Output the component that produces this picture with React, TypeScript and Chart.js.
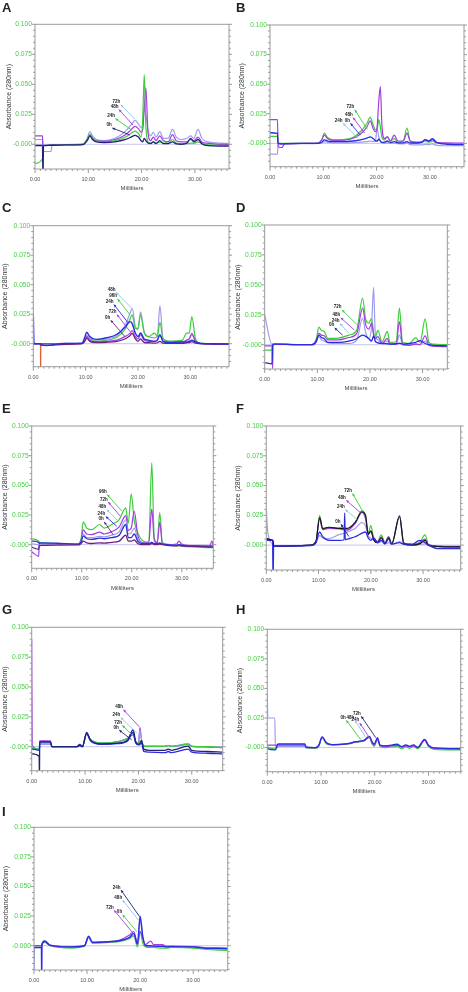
import React, { useEffect, useRef } from 'react';
import { Chart, registerables } from 'chart.js';

Chart.register(...registerables);
Chart.defaults.font.family = "'Liberation Sans', Arial, sans-serif";

// ---------- shared labels ----------
const X_TICKS = [0, 10, 20, 30];
const Y_TICKS = [0, 0.025, 0.05, 0.075, 0.1];
const Y_TITLE = 'Absorbance (280nm)';
const X_TITLE = 'Milliliters';

// ---------- Panel A ----------
const A_x = [0, 1.4, 1.5, 1.6, 2.0, 3.0, 3.2, 6, 9.0, 9.8, 10.3, 10.8, 11.5, 13, 15, 17, 18, 18.8, 19.4, 19.9, 20.2, 20.5, 20.8, 21.2, 21.7, 22.2, 22.7, 23.4, 24.1, 25.0, 25.8, 26.5, 27.5, 28.5, 29.2, 29.8, 30.6, 31.3, 32.5, 34.5, 36.4];
const A_0h = [-0.001, -0.001, -0.03, -0.001, -0.001, -0.0008, -0.0008, -0.0005, -0.0003, 0.003, 0.007, 0.004, 0.002, 0.0015, 0.002, 0.004, 0.006, 0.0075, 0.006, 0.003, 0.002, 0.005, 0.003, 0.001, 0.0005, 0.002, 0.0005, 0.003, 0.0005, 0.0005, 0.002, 0.0003, 0, 0.001, 0.005, 0.002, 0.004, 0.0005, -0.0012, -0.0015, -0.0015];
const A_24h = [-0.016, -0.012, -0.001, -0.001, -0.001, -0.0008, -0.0008, -0.0005, 0, 0.004, 0.008, 0.005, 0.003, 0.002, 0.003, 0.006, 0.009, 0.011, 0.009, 0.006, 0.02, 0.058, 0.015, 0.002, 0.001, 0.002, 0.001, 0.002, 0.001, 0.001, 0.004, 0.001, 0.0005, 0.0005, 0.001, 0.0008, 0.002, 0.0005, -0.0005, -0.0008, -0.001];
const A_48h = [0.007, 0.007, -0.001, -0.001, -0.001, -0.0005, -0.0005, -0.0003, 0, 0.004, 0.008, 0.005, 0.003, 0.0025, 0.004, 0.008, 0.012, 0.015, 0.013, 0.01, 0.012, 0.03, 0.047, 0.01, 0.003, 0.006, 0.003, 0.007, 0.003, 0.002, 0.008, 0.003, 0.002, 0.002, 0.004, 0.003, 0.006, 0.002, 0.0008, 0, -0.0002];
const A_72h = [0.004, 0.004, -0.006, -0.006, -0.006, -0.006, -0.0005, -0.0002, 0.0003, 0.005, 0.0105, 0.007, 0.004, 0.003, 0.005, 0.011, 0.016, 0.02, 0.017, 0.014, 0.015, 0.03, 0.025, 0.012, 0.007, 0.01, 0.006, 0.0105, 0.005, 0.005, 0.0125, 0.006, 0.004, 0.005, 0.007, 0.005, 0.0125, 0.005, 0.002, 0.001, 0.0008];
const A_tags = [['72h', 16.1, 0.033, 18.75, 0.0208], ['48h', 15.75, 0.0289, 18.4, 0.016], ['24h', 15.1, 0.0214, 18.1, 0.012], ['0h', 14.5, 0.0136, 17.8, 0.0078]];

// ---------- Panel B ----------
const B_x = [0, 1.4, 1.5, 1.6, 2.2, 2.8, 6, 9.0, 9.7, 10.2, 10.8, 12, 15, 17, 18.2, 18.8, 19.4, 19.8, 20.1, 20.4, 20.7, 21.0, 21.5, 22.0, 22.6, 23.3, 24.0, 25.0, 25.7, 26.3, 27.5, 28.5, 29.1, 29.8, 30.5, 31.2, 32.5, 34.5, 36.4];
const B_72h = [0.006, 0.006, 0, 0, 0, 0, 0, 0.0003, 0.003, 0.0086, 0.005, 0.003, 0.004, 0.01, 0.017, 0.022, 0.015, 0.0115, 0.012, 0.02, 0.014, 0.005, 0.003, 0.0057, 0.002, 0.004, 0.001, 0.002, 0.013, 0.002, 0.0005, 0.001, 0.002, 0.001, 0.002, 0.0005, 0, -0.0003, -0.0005];
const B_48h = [0.02, 0.02, 0, -0.003, -0.0035, -0.0003, 0, 0.0003, 0.003, 0.007, 0.004, 0.0025, 0.0035, 0.008, 0.014, 0.019, 0.012, 0.01, 0.014, 0.035, 0.048, 0.015, 0.004, 0.0055, 0.002, 0.007, 0.002, 0.002, 0.0086, 0.002, 0.001, 0.001, 0.0035, 0.002, 0.003, 0.0008, 0.0005, 0.0003, 0.0003];
const B_24h = [-0.009, -0.009, -0.001, -0.001, -0.0008, -0.0005, -0.0003, 0, 0.0005, 0.0015, 0.0008, 0.0005, 0.0005, 0.001, 0.0015, 0.002, 0.0015, 0.003, 0.012, 0.006, 0.002, 0.0005, 0, 0.0005, 0, 0.0003, -0.0003, -0.0005, 0.0005, -0.001, -0.0012, -0.0012, -0.0008, -0.001, -0.0005, -0.0015, -0.002, -0.002, -0.002];
const B_0h = [0.009, 0.0085, 0, 0, -0.0005, -0.0003, 0, 0, 0.001, 0.003, 0.002, 0.0015, 0.0018, 0.003, 0.0045, 0.0055, 0.004, 0.002, 0.002, 0.0035, 0.002, 0.0008, 0.001, 0.002, 0.0008, 0.0015, 0.0005, 0.0005, 0.0015, 0.0003, 0.0003, 0.001, 0.003, 0.002, 0.004, 0.001, -0.0005, -0.001, -0.001];
const B_tags = [['72h', 15.9, 0.0284, 18.25, 0.012], ['48h', 15.6, 0.0218, 17.75, 0.0086], ['24h', 13.7, 0.017, 16.5, 0.0043], ['0h', 15.1, 0.017, 16.9, 0.0072]];

// ---------- Panel C ----------
const C_x = [0, 0.15, 1.3, 1.4, 1.5, 2.5, 6, 9.3, 9.8, 10.2, 10.8, 12, 14, 16, 17.5, 18.5, 18.9, 19.5, 20.0, 20.5, 21.2, 22.0, 23.2, 23.7, 24.2, 24.8, 26, 28.5, 29.3, 29.8, 30.3, 31.0, 32.0, 34.5, 37.4];
const C_0h = [0, 0, 0, -0.001, -0.001, -0.0015, -0.0005, 0, 0.002, 0.0045, 0.002, 0.001, 0.0012, 0.002, 0.004, 0.007, 0.0088, 0.004, 0.002, 0.004, 0.001, 0.0008, 0.0005, 0.0008, 0.002, 0.0005, 0.0003, 0.0003, 0.0008, 0.001, 0.0018, 0.0005, 0, -0.0003, -0.0003];
const C_24h = [0.025, 0, 0, 0, -0.001, -0.0015, 0.0003, 0.0005, 0.005, 0.0097, 0.006, 0.0037, 0.005, 0.008, 0.014, 0.0187, 0.017, 0.009, 0.006, 0.009, 0.004, 0.003, 0.002, 0.003, 0.0075, 0.002, 0.001, 0.0015, 0.0015, 0.002, 0.003, 0.0015, 0.0003, 0, -0.0002];
const C_96h = [0, 0, 0, 0, 0, 0, 0, 0, 0.002, 0.006, 0.004, 0.002, 0.003, 0.0055, 0.012, 0.021, 0.0245, 0.013, 0.013, 0.0245, 0.009, 0.006, 0.009, 0.006, 0.018, 0.004, 0.002, 0.003, 0.009, 0.009, 0.023, 0.004, 0.0005, 0, 0];
const C_48h = [0, 0, 0, 0, 0, 0, 0.0002, 0.0003, 0.003, 0.007, 0.004, 0.003, 0.004, 0.007, 0.015, 0.026, 0.03, 0.0145, 0.012, 0.027, 0.01, 0.006, 0.005, 0.006, 0.032, 0.004, 0.002, 0.002, 0.003, 0.004, 0.0074, 0.002, 0, 0, 0];
const C_72h = [0, 0, 0, 0, 0, 0, 0, 0, 0.002, 0.006, 0.003, 0.0015, 0.002, 0.003, 0.006, 0.009, 0.011, 0.006, 0.004, 0.0074, 0.003, 0.002, 0.002, 0.003, 0.0074, 0.002, 0.001, 0.001, 0.003, 0.004, 0.0088, 0.002, 0, -0.0005, -0.0005];
const C_dropX = [1.35, 1.4, 1.45];
const C_drop = [0, -0.03, 0];
const C_tags = [['48h', 15.8, 0.0437, 18.8, 0.03], ['96h', 16.1, 0.038, 18.5, 0.0244], ['24h', 15.4, 0.0332, 18.2, 0.0173], ['72h', 16.0, 0.0247, 18.5, 0.0102], ['0h', 14.8, 0.0199, 17.5, 0.006]];

// ---------- Panel D ----------
const D_x = [0, 1.4, 1.5, 1.6, 2.2, 6, 9.0, 9.8, 10.3, 10.8, 11.3, 12, 14, 16, 17.5, 18.6, 19.2, 19.8, 20.3, 20.7, 21.0, 21.5, 22.3, 23.3, 23.8, 25.0, 25.6, 26.2, 27.5, 28.7, 29.5, 30.5, 31.2, 32.0, 34.7];
const D_72h = [-0.0045, -0.0045, 0.0005, 0.0005, 0.0008, 0, 0, 0.005, 0.0146, 0.0118, 0.011, 0.0053, 0.0055, 0.008, 0.0124, 0.039, 0.0208, 0.018, 0.022, 0.01, 0.006, 0.012, 0.0025, 0.011, 0.002, 0.0025, 0.0306, 0.002, 0.001, 0.0059, 0.002, 0.0216, 0.002, 0.0005, 0];
const D_48h = [-0.001, -0.001, -0.02, 0, 0.0005, 0, 0, 0.003, 0.0095, 0.008, 0.0075, 0.004, 0.004, 0.006, 0.0095, 0.0306, 0.0166, 0.013, 0.018, 0.008, 0.005, 0.0067, 0.001, 0.0053, 0.0005, 0.0005, 0.0194, 0, -0.0005, 0.0005, 0, 0.0073, -0.0005, -0.0012, -0.0017];
const D_24h = [0.025, 0, 0, 0, 0.0005, 0, 0, 0.002, 0.0067, 0.004, 0.003, 0.0015, 0.001, 0.001, 0.004, 0.022, 0.01, 0.005, 0.015, 0.048, 0.01, 0.004, 0.001, 0.003, 0.0005, 0.0005, 0.008, 0.0003, 0, 0.0005, 0, 0.003, -0.0005, -0.001, -0.001];
const D_0h = [-0.015, -0.016, 0.0005, 0.0005, 0.0005, 0, 0, 0.003, 0.008, 0.006, 0.005, 0.002, 0.002, 0.003, 0.005, 0.008, 0.007, 0.005, 0.003, 0.0073, 0.003, 0.0015, 0.001, 0.0008, 0.0005, 0.0008, 0.0012, 0.0005, 0.001, 0.002, 0.0034, 0.001, 0, -0.0005, -0.001];
const D_tags = [['72h', 14.7, 0.029, 17.6, 0.0166], ['48h', 14.45, 0.0225, 17.0, 0.0124], ['24h', 14.3, 0.0177, 16.0, 0.0096], ['0h', 13.3, 0.014, 14.8, 0.008]];

// ---------- Panel E ----------
const E_x = [0, 1.4, 1.5, 2.0, 5, 9.3, 9.9, 10.3, 11.0, 12.0, 13.6, 14.5, 16.0, 17.5, 18.8, 19.3, 19.9, 20.5, 21.2, 22.0, 23.4, 24.0, 24.5, 25.1, 25.6, 26.1, 27.0, 29.0, 29.4, 30.0, 33.0, 35.6, 36.0, 36.3];
const E_96h = [0.005, 0.003, 0.002, 0.0015, 0.001, 0.0005, 0.006, 0.0192, 0.014, 0.0126, 0.017, 0.014, 0.017, 0.0212, 0.031, 0.018, 0.0428, 0.02, 0.01, 0.004, 0.002, 0.069, 0.005, 0.002, 0.027, 0.002, 0.0005, -0.001, -0.0008, -0.0015, -0.002, -0.0025, -0.0025, -0.0025];
const E_72h = [-0.006, -0.0098, 0.001, 0.0008, 0.0005, 0.0003, 0.004, 0.0126, 0.009, 0.0085, 0.0105, 0.009, 0.011, 0.015, 0.0245, 0.012, 0.014, 0.028, 0.008, 0.002, 0.0015, 0.03, 0.004, 0.0015, 0.019, 0.001, 0, 0.0005, 0.003, 0.0005, -0.001, -0.0012, 0.003, -0.001];
const E_48h = [0.001, 0, 0.001, 0.0008, 0.0005, 0.0003, 0.003, 0.009, 0.006, 0.006, 0.007, 0.0065, 0.008, 0.011, 0.021, 0.009, 0.01, 0.014, 0.005, 0.0015, 0.001, 0.002, 0.0008, 0.0008, 0.0015, 0.0005, 0, -0.0005, 0, -0.0008, -0.001, -0.0012, -0.0012, -0.0012];
const E_24h = [0.003, 0.002, 0.001, 0.0015, 0.0012, 0.0005, 0.0025, 0.0075, 0.005, 0.0045, 0.0055, 0.005, 0.006, 0.008, 0.017, 0.006, 0.006, 0.009, 0.003, 0.001, 0.0008, 0.002, 0.0008, 0.0008, 0.0012, 0.0005, 0, -0.0005, 0, -0.0005, -0.001, -0.0012, -0.0012, -0.0015];
const E_0h = [-0.002, -0.004, -0.001, -0.0005, -0.0003, -0.0002, 0.001, 0.003, 0.0015, 0.001, 0.0015, 0.0013, 0.002, 0.003, 0.008, 0.003, 0.003, 0.004, 0.001, 0, 0, 0.001, 0, 0, 0.0005, 0, -0.0005, -0.001, -0.0005, -0.001, -0.0015, -0.002, -0.002, -0.002];
const E_tags = [['96h', 15.1, 0.0422, 18.0, 0.0284], ['72h', 15.3, 0.0359, 17.7, 0.0241], ['48h', 15.0, 0.0296, 17.3, 0.0198], ['24h', 14.8, 0.0238, 17.0, 0.0155], ['0h', 14.5, 0.0192, 16.3, 0.0083]];

// ---------- Panel F ----------
const F_x = [0, 0.3, 1.2, 1.3, 1.4, 2.0, 8.5, 9.5, 10.2, 10.8, 12.0, 14.0, 14.9, 15.0, 15.1, 15.5, 17.0, 18.3, 19.0, 19.5, 20.0, 20.6, 21.3, 22.0, 22.7, 23.4, 24.0, 25.5, 26.3, 28.0, 29.3, 30.4, 31.0, 33.0, 37.2];
const F_72h = [0.0057, 0.005, 0.004, 0.003, -0.0008, -0.0008, 0, 0.003, 0.025, 0.013, 0.015, 0.0143, 0.014, 0.014, 0.014, 0.013, 0.0187, 0.029, 0.024, 0.01, 0.0164, 0.005, 0.003, 0.0086, 0.002, 0.0072, 0.001, 0.025, 0.002, 0.0005, 0.002, 0.0086, 0.0005, -0.0012, -0.0015];
const F_blk = [0.0057, 0.005, 0.004, 0.003, -0.0008, -0.0008, 0, 0.003, 0.023, 0.014, 0.015, 0.014, 0.014, 0.014, 0.014, 0.014, 0.019, 0.028, 0.025, 0.009, 0.012, 0.004, 0.002, 0.006, 0.001, 0.006, 0.001, 0.024, 0.001, 0, 0.001, 0.004, 0, -0.0012, -0.0015];
const F_48h = [0.0057, 0.005, 0.004, 0.003, -0.0008, -0.0008, 0, 0.003, 0.022, 0.013, 0.014, 0.0135, 0.013, 0.013, 0.013, 0.0125, 0.018, 0.0275, 0.022, 0.009, 0.011, 0.005, 0.003, 0.007, 0.002, 0.007, 0.001, 0.0245, 0.002, 0.0005, 0.002, 0.005, 0.0005, -0.0008, -0.001];
const F_24h = [0.03, 0.01, 0.001, 0.0005, 0, -0.0008, 0, 0.002, 0.008, 0.006, 0.0055, 0.009, 0.01, 0.0105, 0.01, 0.011, 0.014, 0.019, 0.016, 0.008, 0.006, 0.004, 0.002, 0.003, 0.001, 0.002, 0.0005, 0.003, 0.0005, 0, 0.0005, 0.001, 0, -0.0008, -0.002];
const F_0h = [0.004, 0.004, 0.004, -0.03, -0.001, -0.0008, -0.0005, 0.002, 0.011, 0.007, 0.004, 0.004, 0.0045, 0.027, 0.0045, 0.005, 0.007, 0.01, 0.011, 0.006, 0.004, 0.006, 0.002, 0.004, 0.0015, 0.005, 0.001, 0.002, 0.0008, 0.0008, 0.004, 0.002, 0, -0.003, -0.003];
const F_tags = [['72h', 16.5, 0.0433, 18.3, 0.0296], ['48h', 15.3, 0.0376, 18.0, 0.0273], ['24h', 15.1, 0.0298, 17.4, 0.0215], ['0h', 14.3, 0.0175, 15.8, 0.0072]];

// ---------- Panel G ----------
const G_x = [0, 0.1, 1.4, 1.45, 1.5, 3.5, 3.8, 8.5, 9.0, 9.5, 10.3, 11.0, 13.0, 16.0, 18.0, 19.0, 19.5, 20.0, 20.3, 20.6, 21.0, 22.0, 25.0, 25.6, 26.2, 29.3, 30.0, 33.0, 35.8];
const G_0h = [-0.006, -0.006, -0.008, -0.03, 0.004, 0.004, 0, 0, 0.002, 0, 0.012, 0.0057, 0.0023, 0.003, 0.0057, 0.0142, 0.004, 0.002, 0.003, 0.005, -0.002, -0.003, -0.003, -0.002, -0.003, 0.0005, -0.003, -0.004, -0.0045];
const G_low = [-0.002, -0.002, -0.003, -0.003, 0.004, 0.004, 0, 0, 0.001, 0, 0.011, 0.005, 0.002, 0.0025, 0.005, 0.012, 0.003, 0.0015, 0.002, 0.003, -0.004, -0.0045, -0.005, -0.004, -0.005, -0.002, -0.0045, -0.0055, -0.006];
const G_48h = [0.09, 0.001, -0.002, -0.002, 0.005, 0.005, 0, 0, 0.001, 0, 0.011, 0.006, 0.003, 0.004, 0.007, 0.01, 0.004, 0.003, 0.016, 0.005, 0.0005, 0.0003, 0.0003, 0.001, 0.0003, 0.002, 0.0003, -0.0003, -0.0008];
const G_72h = [0, -0.001, -0.002, -0.002, 0.003, 0.003, 0, 0, 0.001, 0, 0.011, 0.006, 0.003, 0.004, 0.007, 0.011, 0.004, 0.003, 0.005, 0.004, 0.0005, 0.0003, 0.0003, 0.001, 0.0003, 0.002, 0.0003, 0, -0.0005];
const G_24h = [0, -0.001, -0.002, -0.002, 0.002, 0.002, 0, 0, 0.001, 0, 0.011, 0.006, 0.003, 0.004, 0.007, 0.012, 0.004, 0.003, 0.014, 0.006, 0.0008, 0.0005, 0.0003, 0.0012, 0.0003, 0.0025, 0.0005, 0, -0.0003];
const G_tags = [['48h', 17.2, 0.031, 20.2, 0.0165], ['24h', 16.7, 0.0244, 19.7, 0.0114], ['72h', 17.0, 0.0179, 19.1, 0.0085], ['0h', 16.4, 0.0139, 18.75, 0.0057]];

// ---------- Panel H ----------
const H_x = [0, 0.1, 1.4, 1.5, 2.0, 7.0, 7.2, 9.0, 9.6, 10.2, 11.0, 12.0, 15.0, 16.5, 18.0, 19.0, 19.5, 19.9, 20.5, 21.0, 22.0, 24.2, 25.0, 25.8, 26.5, 27.2, 28.0, 29.3, 30.0, 31.0, 36.0];
const H_72h = [0, -0.001, -0.002, -0.002, 0.003, 0.003, 0.0005, 0, 0.002, 0.009, 0.004, 0.0025, 0.0033, 0.005, 0.006, 0.0095, 0.005, 0.003, 0.0083, 0.002, 0.0015, 0.0028, 0.0008, 0.0022, 0.001, 0.0022, 0.0002, 0.007, 0.002, -0.0003, -0.001];
const H_24h = [0.002, 0.002, 0.002, 0.002, 0.002, 0.002, 0, 0, 0.002, 0.0085, 0.004, 0.0025, 0.0033, 0.0048, 0.0058, 0.009, 0.004, 0.002, 0.007, 0.0015, 0.001, 0.002, 0.0005, 0.0015, 0.0008, 0.0015, 0, 0.0065, 0.0015, -0.0005, -0.0012];
const H_48h = [0.045, 0.025, 0.025, 0, 0.001, 0.001, 0, 0, 0.002, 0.0088, 0.004, 0.0025, 0.0033, 0.005, 0.006, 0.0095, 0.004, 0.002, 0.0075, 0.0015, 0.001, 0.002, 0.0005, 0.0015, 0.0008, 0.0015, 0, 0.0068, 0.0015, -0.0008, -0.0015];
const H_0h = [0.003, 0, -0.001, -0.001, 0.001, 0.001, 0, -0.0008, 0.001, 0.0085, 0.003, 0.0022, 0.003, 0.0045, 0.0055, 0.0085, 0.003, 0.001, 0.007, 0.001, 0, 0.001, -0.001, 0.0008, -0.0005, 0.001, -0.001, 0.006, 0.001, -0.0015, -0.002];
const H_tags = [['72h', 17.5, 0.0264, 20.2, 0.0083], ['24h', 17.2, 0.0208, 19.25, 0.0067], ['48h', 16.3, 0.0231, 18.3, 0.0089], ['0h', 14.7, 0.0231, 17.4, 0.0067]];

// ---------- Panel I ----------
const I_x = [0, 0.1, 1.4, 1.45, 1.5, 2.0, 3.0, 7.0, 9.5, 10.3, 11.0, 14.0, 16.0, 18.0, 18.8, 19.5, 20.0, 20.5, 21.0, 22.0, 22.5, 24.2, 25.0, 25.8, 30.0, 32.0, 36.5];
const I_24h = [-0.0015, -0.0015, -0.0015, -0.03, 0.001, 0.004, 0.0005, -0.001, 0, 0.008, 0.0028, 0.0034, 0.0042, 0.007, 0.0104, 0.0014, 0.025, 0.008, 0, 0, -0.0003, -0.0005, -0.001, -0.0008, -0.001, -0.002, -0.0025];
const I_48h = [-0.03, -0.0015, -0.0015, -0.0015, 0, 0.004, 0.0005, -0.001, 0, 0.0075, 0.0025, 0.003, 0.004, 0.0065, 0.009, 0.001, 0.022, 0.006, 0, -0.0005, -0.0005, -0.0008, -0.001, -0.001, -0.0012, -0.002, -0.0025];
const I_72h = [0, 0, 0, 0, 0.001, 0.0035, 0.0003, -0.001, 0, 0.0075, 0.003, 0.0032, 0.0045, 0.009, 0.012, 0.002, 0.012, 0.006, 0.001, 0.004, 0.001, 0.001, -0.0005, -0.0003, -0.0008, -0.0015, -0.002];
const I_0h = [0, 0, 0, 0, 0.001, 0.003, 0, -0.002, -0.0005, 0.007, 0.002, 0.0028, 0.0035, 0.006, 0.008, -0.001, 0.012, 0.002, -0.001, -0.0015, -0.0015, -0.002, -0.002, -0.0015, -0.002, -0.003, -0.004];
const I_tags = [['24h', 16.4, 0.047, 19.9, 0.0245], ['48h', 16.7, 0.0385, 19.7, 0.0216], ['72h', 15.1, 0.03, 18.7, 0.0104], ['0h', 16.7, 0.0261, 19.4, 0.0118]];

// ---------- styles ----------
const NAVY = '#22227e';
const BLUE = '#2b2be0';
const PURPLE = '#a33de0';
const GREEN = '#3ccc3c';
const LAV = '#9d9df0';
const LBLUE = '#8ec4ec';
const DPURP = '#6a2282';
const BLACK = '#161616';
const RED = '#e0582c';
const YTICK = '#47cf47';

type Series = { x: number[]; y: number[]; color: string; width: number };
type Panel = {
  letter: string; col: number; L: number; R: number; T: number; B: number;
  xMax: number; yMin: number; titleX: number; letterTop: number;
  series: Series[]; tags: (string | number)[][]; tagColors: string[];
};

const s = (x: number[], y: number[], color: string, width = 1.2): Series => ({ x, y, color, width });

const PANELS: Panel[] = [
  { letter: 'A', col: 0, L: 35, R: 229, T: 24.3, B: 169, xMax: 36.4, yMin: -0.0206, titleX: 9, letterTop: 0,
    series: [s(A_x, A_0h, NAVY, 1.3), s(A_x, A_24h, GREEN), s(A_x, A_48h, PURPLE), s(A_x, A_72h, LAV)],
    tags: A_tags, tagColors: [LBLUE, PURPLE, GREEN, NAVY] },
  { letter: 'B', col: 234, L: 270, R: 464, T: 25, B: 166.7, xMax: 36.4, yMin: -0.0197, titleX: 8, letterTop: 0,
    series: [s(B_x, B_0h, BLUE, 1.3), s(B_x, B_48h, PURPLE), s(B_x, B_72h, GREEN), s(B_x, B_24h, LAV)],
    tags: B_tags, tagColors: [GREEN, PURPLE, LBLUE, BLUE] },
  { letter: 'C', col: 0, L: 33.3, R: 229, T: 225.7, B: 366.7, xMax: 37.4, yMin: -0.0195, titleX: 5, letterTop: 200,
    series: [s(C_x, C_24h, BLUE, 1.4), s(C_x, C_0h, DPURP, 1.3), s(C_x, C_72h, PURPLE), s(C_x, C_96h, GREEN), s(C_x, C_48h, LAV), s(C_dropX, C_drop, RED, 1)],
    tags: C_tags, tagColors: [LBLUE, GREEN, BLUE, PURPLE, DPURP] },
  { letter: 'D', col: 234, L: 264.7, R: 447.3, T: 225, B: 369, xMax: 34.7, yMin: -0.0203, titleX: 4, letterTop: 200,
    series: [s(D_x, D_0h, BLUE, 1.3), s(D_x, D_48h, PURPLE), s(D_x, D_24h, LAV), s(D_x, D_72h, GREEN)],
    tags: D_tags, tagColors: [GREEN, PURPLE, LBLUE, NAVY] },
  { letter: 'E', col: 0, L: 31.7, R: 213.3, T: 426, B: 568.3, xMax: 36.3, yMin: -0.0199, titleX: 5, letterTop: 401,
    series: [s(E_x, E_0h, DPURP, 1.3), s(E_x, E_24h, BLUE, 1.3), s(E_x, E_48h, LAV), s(E_x, E_72h, PURPLE), s(E_x, E_96h, GREEN)],
    tags: E_tags, tagColors: [GREEN, PURPLE, LBLUE, BLUE, DPURP] },
  { letter: 'F', col: 234, L: 266.3, R: 460.7, T: 426, B: 570, xMax: 37.2, yMin: -0.0209, titleX: 4, letterTop: 401,
    series: [s(F_x, F_0h, BLUE, 1.3), s(F_x, F_blk, BLACK, 1.2), s(F_x, F_48h, PURPLE), s(F_x, F_72h, GREEN), s(F_x, F_24h, LAV)],
    tags: F_tags, tagColors: [GREEN, PURPLE, LBLUE, NAVY] },
  { letter: 'G', col: 0, L: 31.7, R: 222.7, T: 627.3, B: 770.7, xMax: 35.8, yMin: -0.0201, titleX: 5, letterTop: 602,
    series: [s(G_x, G_0h, NAVY, 1.3), s(G_x, G_low, BLUE, 1.3), s(G_x, G_72h, GREEN), s(G_x, G_24h, LAV), s(G_x, G_48h, PURPLE)],
    tags: G_tags, tagColors: [PURPLE, LBLUE, GREEN, NAVY] },
  { letter: 'H', col: 234, L: 267.3, R: 460.7, T: 629.3, B: 771.7, xMax: 36, yMin: -0.0204, titleX: 6, letterTop: 602,
    series: [s(H_x, H_72h, BLUE, 1.3), s(H_x, H_24h, PURPLE), s(H_x, H_48h, LAV), s(H_x, H_0h, GREEN)],
    tags: H_tags, tagColors: [NAVY, PURPLE, LBLUE, GREEN] },
  { letter: 'I', col: 0, L: 34, R: 227.7, T: 827.3, B: 970, xMax: 36.5, yMin: -0.0205, titleX: 6, letterTop: 804,
    series: [s(I_x, I_24h, BLUE, 1.4), s(I_x, I_72h, PURPLE), s(I_x, I_48h, LAV), s(I_x, I_0h, GREEN)],
    tags: I_tags, tagColors: [NAVY, LBLUE, PURPLE, GREEN] },
];

function makeFrame(p: Panel) {
  return {
    id: 'frame' + p.letter,
    beforeDatasetsDraw(chart: any) {
      const { ctx, chartArea: ca, scales } = chart;
      const y0 = scales.y.getPixelForValue(0);
      ctx.save();
      ctx.strokeStyle = '#c6c6f0';
      ctx.lineWidth = 1;
      ctx.beginPath();
      ctx.moveTo(ca.left, y0);
      ctx.lineTo(ca.right, y0);
      ctx.stroke();
      ctx.restore();
    },
    afterDatasetsDraw(chart: any) {
      const { ctx, chartArea: ca, scales } = chart;
      const xs = scales.x, ys = scales.y;
      ctx.save();
      ctx.strokeStyle = '#9a9a9a';
      ctx.lineWidth = 1;
      ctx.strokeRect(ca.left, ca.top, ca.right - ca.left, ca.bottom - ca.top);
      ctx.beginPath();
      for (let v = 0; v <= p.xMax + 1e-9; v += 1) {
        const px = xs.getPixelForValue(v);
        const len = v % 10 === 0 ? 4 : 2;
        ctx.moveTo(px, ca.bottom);
        ctx.lineTo(px, ca.bottom + len);
      }
      for (let k = Math.ceil(p.yMin / 0.005); k <= 20; k++) {
        const py = ys.getPixelForValue(k * 0.005);
        const len = k % 5 === 0 ? 3 : 2;
        ctx.moveTo(ca.left - len, py);
        ctx.lineTo(ca.left, py);
        ctx.moveTo(ca.right, py);
        ctx.lineTo(ca.right + len, py);
      }
      ctx.stroke();
      // annotation arrows
      p.tags.forEach((t, i) => {
        const [label, x1, y1, x2, y2] = t as [string, number, number, number, number];
        const ax = xs.getPixelForValue(x1), ay = ys.getPixelForValue(y1);
        const bx = xs.getPixelForValue(x2), by = ys.getPixelForValue(y2);
        const col = p.tagColors[i];
        ctx.strokeStyle = col;
        ctx.fillStyle = col;
        ctx.lineWidth = 0.9;
        ctx.beginPath();
        ctx.moveTo(ax, ay);
        ctx.lineTo(bx, by);
        ctx.stroke();
        const ang = Math.atan2(ay - by, ax - bx);
        ctx.beginPath();
        ctx.moveTo(ax, ay);
        ctx.lineTo(ax - 3 * Math.cos(ang - 0.45), ay - 3 * Math.sin(ang - 0.45));
        ctx.lineTo(ax - 3 * Math.cos(ang + 0.45), ay - 3 * Math.sin(ang + 0.45));
        ctx.closePath();
        ctx.fill();
        ctx.fillStyle = '#222';
        ctx.font = "bold 4.5px 'Liberation Sans', Arial, sans-serif";
        ctx.textAlign = 'right';
        ctx.textBaseline = 'bottom';
        ctx.fillText(label, ax - 0.5, ay - 0.5);
      });
      ctx.restore();
    },
  };
}

function PanelChart({ p }: { p: Panel }) {
  const ref = useRef<HTMLCanvasElement | null>(null);
  const cTop = Math.floor(p.T) - 14;
  const cBottom = Math.ceil(p.B) + 23;
  const cH = cBottom - cTop;
  useEffect(() => {
    if (!ref.current) return;
    const chart = new Chart(ref.current, {
      type: 'line',
      data: {
        datasets: p.series.map((se) => ({
          data: se.x.map((xv, i) => ({ x: xv, y: se.y[i] })),
          borderColor: se.color,
          borderWidth: se.width,
          pointRadius: 0,
          fill: false,
          cubicInterpolationMode: 'monotone' as const,
        })),
      },
      options: {
        responsive: false,
        animation: false,
        events: [],
        layout: { padding: { top: p.T - cTop, right: p.col + 234 - p.R, left: 0, bottom: 0 } },
        plugins: { legend: { display: false }, tooltip: { enabled: false }, title: { display: false } },
        scales: {
          x: {
            type: 'linear', min: 0, max: p.xMax,
            grid: { display: false, drawTicks: false, tickLength: 0 },
            border: { display: false },
            afterBuildTicks: (sc: any) => { sc.ticks = X_TICKS.map((v) => ({ value: v })); },
            afterFit: (sc: any) => { sc.height = cBottom - p.B; },
            ticks: { padding: 7, color: '#555', font: { size: 5.5 }, autoSkip: false, maxRotation: 0, callback: (v: any) => Number(v).toFixed(2) },
            title: { display: true, text: X_TITLE, color: '#444', font: { size: 6 }, padding: 0 },
          },
          y: {
            type: 'linear', min: p.yMin, max: 0.1,
            grid: { display: false, drawTicks: false, tickLength: 0 },
            border: { display: false },
            afterBuildTicks: (sc: any) => { sc.ticks = Y_TICKS.map((v) => ({ value: v })); },
            afterFit: (sc: any) => { sc.width = p.L - p.col; },
            ticks: { padding: 3, color: YTICK, font: { size: 6.7 }, autoSkip: false, callback: (v: any) => (Math.abs(Number(v)) < 1e-9 ? '-0.000' : Number(v).toFixed(3)) },
            title: { display: true, text: Y_TITLE, color: '#333', font: { size: 7 }, padding: { top: Math.max(0, p.titleX - 4.2), bottom: 0 } },
          },
        },
      },
      plugins: [makeFrame(p)],
    } as any);
    return () => chart.destroy();
  }, [p]);
  return (
    <canvas
      ref={ref}
      width={234}
      height={cH}
      style={{ position: 'absolute', left: p.col, top: cTop, width: 234, height: cH }}
    />
  );
}

export default function App() {
  return (
    <div style={{ position: 'absolute', left: 0, top: 0, width: 468, height: 992, background: '#fff', overflow: 'hidden' }}>
      {PANELS.map((p) => (
        <React.Fragment key={p.letter}>
          <PanelChart p={p} />
          <div
            style={{
              position: 'absolute', left: p.col + 2, top: p.letterTop,
              font: "bold 13px 'Liberation Sans', Arial, sans-serif", color: '#222', lineHeight: '15px',
            }}
          >
            {p.letter}
          </div>
        </React.Fragment>
      ))}
    </div>
  );
}
